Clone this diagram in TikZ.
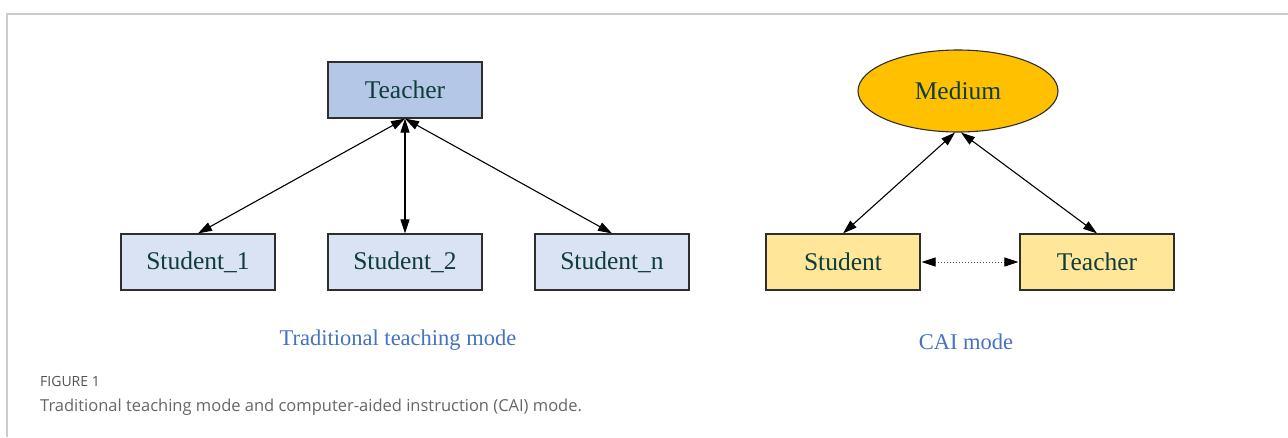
\documentclass[tikz,border=0pt]{standalone}
\usepackage{fontspec}
\setmainfont{Liberation Serif}
\newfontfamily\capfont{Open Sans}
\usetikzlibrary{shapes.geometric,arrows.meta}
\definecolor{nodetext}{HTML}{0E3D3C}
\definecolor{boxline}{HTML}{2E2E2E}
\definecolor{teacherfill}{HTML}{B4C7E7}
\definecolor{studentfill}{HTML}{DAE3F3}
\definecolor{mediumfill}{HTML}{FFC000}
\definecolor{caifill}{HTML}{FFE699}
\definecolor{modeblue}{HTML}{4472C4}
\definecolor{framegray}{HTML}{CCCCCC}
\definecolor{captiongray}{HTML}{666666}
\tikzset{
  x=1pt, y=-1pt,
  box/.style={draw=boxline, line width=1.2pt, minimum width=154pt, minimum height=56pt,
    inner sep=0pt, text=nodetext, font=\fontsize{25.5}{28}\selectfont},
  oval/.style={ellipse, draw=boxline, line width=1.1pt, fill=mediumfill, minimum width=200pt,
    minimum height=82pt, inner sep=0pt, text=nodetext, font=\fontsize{25.5}{28}\selectfont},
  tip/.style={Triangle[length=14pt,width=9pt,color=black]},
  link/.style={line width=1.1pt, {Triangle[length=14pt,width=9pt]}-{Triangle[length=14pt,width=9pt]}},
  dotlink/.style={line width=1pt, dotted, draw=black!70,
    {Triangle[length=14pt,width=9pt,color=black,sep=1pt]}-{Triangle[length=14pt,width=9pt,color=black,sep=1pt]}},
  modelabel/.style={text=modeblue, font=\fontsize{22.5}{25}\selectfont},
}
\begin{document}
\begin{tikzpicture}
  % page and frame
  \fill[white] (0,0) rectangle (1288,437);
  \useasboundingbox (0,0) rectangle (1288,437);
  \draw[framegray, line width=1.5pt] (7,437) -- (7,14) -- (1288,14);

  % traditional teaching mode
  \node[box, fill=teacherfill] (T) at (405,90) {Teacher};
  \node[box, fill=studentfill] (S1) at (198,262) {Student\_1};
  \node[box, fill=studentfill] (S2) at (405,262) {Student\_2};
  \node[box, fill=studentfill] (Sn) at (612,262) {Student\_n};
  \draw[link] (T.south) -- (S1.north);
  \draw[link] (T.south) -- (S2.north);
  \draw[link] (T.south) -- (Sn.north);
  \node[modelabel] (L1) at (398,340) {Traditional teaching mode};

  % CAI mode
  \node[oval] (M) at (958,91) {Medium};
  \node[box, fill=caifill] (CS) at (843,262) {Student};
  \node[box, fill=caifill] (CT) at (1097,262) {Teacher};
  \draw[link] ([xshift=-3pt]M.south) -- (CS.north);
  \draw[link] ([xshift=3pt]M.south) -- (CT.north);
  \draw[dotlink] (CS.east) -- (CT.west);
  \node[modelabel] (L2) at (966,342) {CAI mode};

  % caption
  \node[anchor=west, inner sep=0pt, text=captiongray!80!black, font=\capfont\fontsize{14}{16}\selectfont] (F) at (40,381) {FIGURE 1};
  \node[anchor=west, inner sep=0pt, text=captiongray, font=\capfont\fontsize{16.5}{19}\selectfont] (C) at (40,407) {Traditional teaching mode and computer-aided instruction (CAI) mode.};
\end{tikzpicture}
\end{document}
